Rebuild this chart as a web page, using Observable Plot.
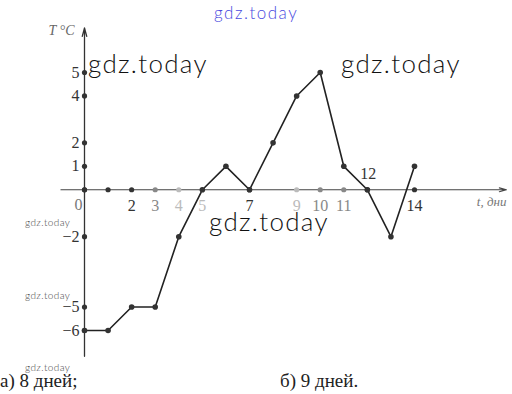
<!DOCTYPE html>
<html><head><meta charset="utf-8">
<script src="https://cdn.jsdelivr.net/npm/d3@7"></script>
<script src="https://cdn.jsdelivr.net/npm/@observablehq/plot@0.6"></script>
<style>
body{margin:0;background:#fff;}
#wrap{position:relative;width:512px;height:394px;overflow:hidden;}
.wm{position:absolute;font-family:Lato,"Open Sans",sans-serif;font-weight:300;white-space:nowrap;line-height:1;}
#cap{position:relative;height:26px;font-family:"Liberation Serif",serif;font-size:19px;color:#222;}
#cap span{position:absolute;top:3px;line-height:1;}
</style></head><body><div id="wrap"><div id="chart"></div><div id="cap"><span style="left:0px">а) 8 дней;</span><span style="left:280px">б) 9 дней.</span></div></div>
<script>
const days = [0,1,2,3,4,5,6,7,8,9,10,11,12,13,14];
const temps = [-6,-6,-5,-5,-2,0,1,0,2,4,5,1,0,-2,1];
const xTicksBelow = [2,3,4,5,7,9,10,11,14];
const xTickAbove = [12];
const xAxisDots = [0,1,2,3,4,5,7,9,10,11,12,14];
const yTicks = [5,4,2,1,-2,-5,-6];
const lightTicks = [4,5,9];
const greyTicks = [3,10,11];
const xAxisExtent = [-1, 17.9];
const yAxisExtent = [-7.1, 6.9];

const pts = days.map((d,i)=>({d, t: temps[i]}));
const tickColor = v => lightTicks.includes(v) ? "#bbb" : greyTicks.includes(v) ? "#888" : "#333";

const chart = Plot.plot({
  width: 512, height: 368,
  marginLeft: 0, marginRight: 0, marginTop: 0, marginBottom: 0,
  x: {domain: [0,14], range: [84,414], axis: null},
  y: {domain: [-6,5], range: [330,72], axis: null},
  style: {background: "#fff"},
  marks: [
    Plot.arrow([0], {x1: xAxisExtent[0], x2: xAxisExtent[1], y1: 0, y2: 0, stroke: "#444", strokeWidth: 1.1, headLength: 10, headAngle: 30}),
    Plot.arrow([0], {x1: 0, x2: 0, y1: yAxisExtent[0], y2: yAxisExtent[1], stroke: "#333", strokeWidth: 1.3, headLength: 10, headAngle: 30}),
    Plot.line(pts, {x: "d", y: "t", stroke: "#222", strokeWidth: 1.6}),
    Plot.dot(xAxisDots, {x: d => d, y: 0, r: 2.6, fill: d => tickColor(d), stroke: "none"}),
    Plot.dot(yTicks.concat([0]), {x: 0, y: d => d, r: 2.6, fill: "#333", stroke: "none"}),
    Plot.dot(pts, {x: "d", y: "t", r: 2.8, fill: "#333", stroke: "none"}),
    Plot.text(xTicksBelow, {x: d => d, y: 0, text: d => String(d), dy: 16, fill: d => tickColor(d), fontSize: 16, fontFamily: "Liberation Serif"}),
    Plot.text(xTickAbove, {x: d => d, y: 0, text: d => String(d), dy: -16, dx: 1, fill: "#333", fontSize: 16, fontFamily: "Liberation Serif"}),
    Plot.text([0], {x: 0, y: 0, text: d => String(d), dx: -6, dy: 15, fill: "#777", fontSize: 16, fontFamily: "Liberation Serif"}),
    Plot.text(yTicks, {x: 0, y: d => d, text: d => d < 0 ? "\u2212" + Math.abs(d) : String(d), dx: -5, textAnchor: "end", fill: "#333", fontSize: 16, fontFamily: "Liberation Serif"}),
    Plot.text(["T °C"], {x: 0, y: yAxisExtent[1], text: d => d, dx: -10, dy: 3, textAnchor: "end", fill: "#666", fontSize: 14, fontStyle: "italic", fontFamily: "Liberation Serif"}),
    Plot.text(["t, дни"], {x: xAxisExtent[1], y: 0, text: d => d, dy: 12, textAnchor: "end", fill: "#777", fontSize: 13, fontStyle: "italic", fontFamily: "Liberation Serif"})
  ]
});
document.getElementById("chart").appendChild(chart);

const wms = [
  {text: "gdz.today", left: 214, top: 4, size: 17, spacing: 1.5, color: "#4a4ae0"},
  {text: "gdz.today", left: 88, top: 50, size: 26, spacing: 1.3, color: "#111"},
  {text: "gdz.today", left: 341, top: 50, size: 26, spacing: 1.3, color: "#111"},
  {text: "gdz.today", left: 209, top: 208, size: 26, spacing: 1.3, color: "#111"},
  {text: "gdz.today", left: 25, top: 217, size: 10, spacing: 0.4, color: "#444"},
  {text: "gdz.today", left: 25, top: 290, size: 10, spacing: 0.4, color: "#444"},
  {text: "gdz.today", left: 25, top: 362, size: 10, spacing: 0.4, color: "#444"}
];
const wrap = document.getElementById("wrap");
for (const w of wms) {
  const el = document.createElement("div");
  el.className = "wm";
  el.textContent = w.text;
  el.style.left = w.left + "px";
  el.style.top = w.top + "px";
  el.style.fontSize = w.size + "px";
  el.style.letterSpacing = w.spacing + "px";
  el.style.color = w.color;
  wrap.appendChild(el);
}
</script>
</body></html>
